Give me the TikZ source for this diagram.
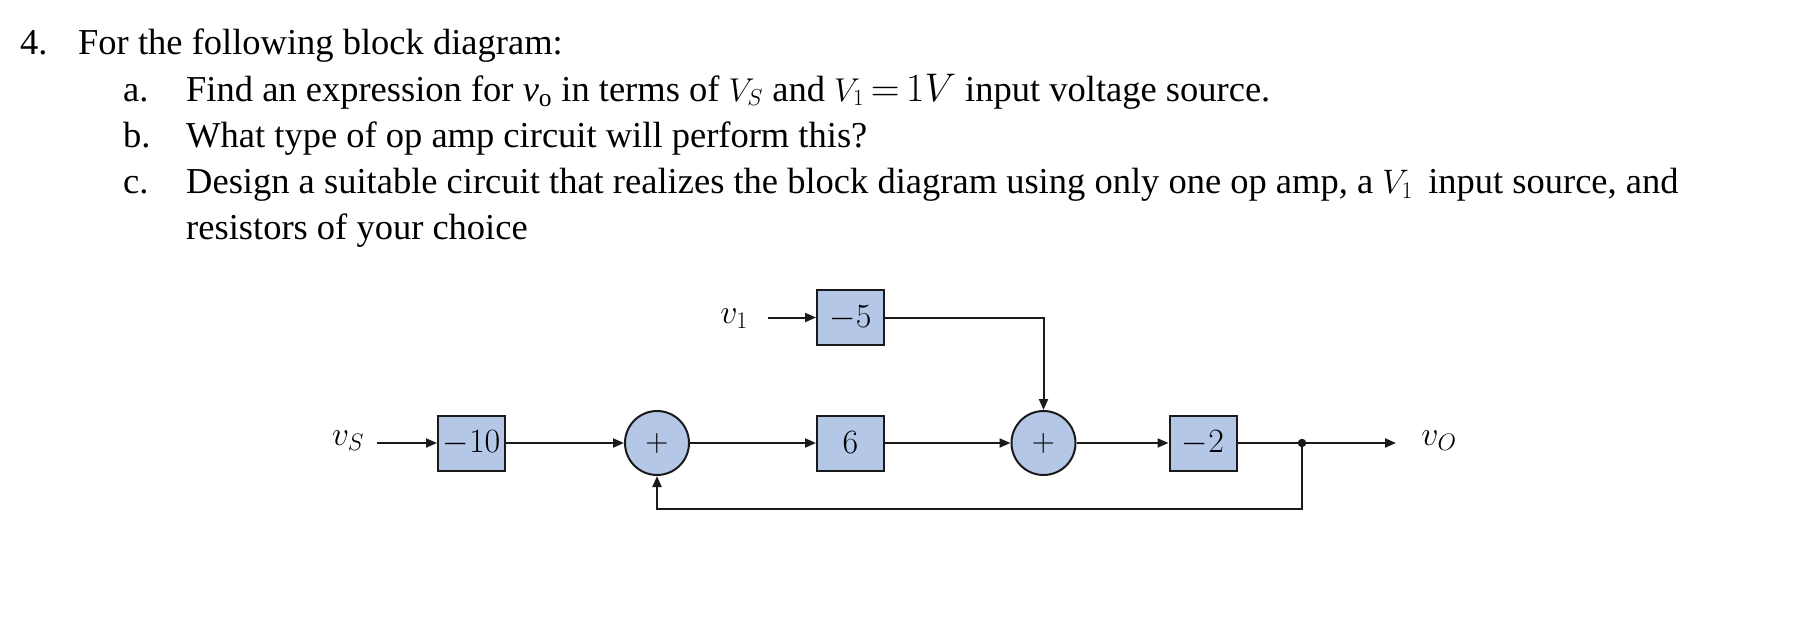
\RequirePackage{fix-cm}
\documentclass[tikz,border=0pt]{standalone}
\usepackage[no-math]{fontspec}
\setmainfont{Liberation Serif}
\usetikzlibrary{arrows.meta,calc}
\definecolor{blk}{HTML}{B4C7E7}
\definecolor{ln}{HTML}{1A1A1A}
\begin{document}
\begin{tikzpicture}[x=1pt,y=-1pt,
  txt/.style={anchor=base west,inner sep=0pt,font=\fontsize{36.5}{40}\selectfont},
  gain/.style={draw=ln,line width=2pt,fill=blk,minimum width=67pt,minimum height=55pt,inner sep=0pt,font=\fontsize{34}{40}\selectfont},
  sumnode/.style={circle,draw=ln,line width=2pt,fill=blk,minimum size=64pt,inner sep=0pt,font=\fontsize{32}{36}\selectfont},
  lab/.style={anchor=base,inner sep=0pt,font=\fontsize{34}{40}\selectfont},
  conn/.style={draw=ln,line width=2pt},
  arr/.style={conn,-{Triangle[length=11pt,width=9pt]}},
]
\useasboundingbox (0,0) rectangle (1814,634);

% question text
\node[txt] (n4) at (20,55) {4.};
\node[txt] (l1) at (78,55) {For the following block diagram:};
\node[txt] (na) at (123,101) {a.};
\node[txt] (l2) at (186,101) {Find an expression for \textit{v}\textsubscript{o} in terms of {\fontsize{33}{36}\selectfont$V_S$} and {\fontsize{33}{36}\selectfont$V_1$}{\fontsize{40}{40}\selectfont$\,{=}\,1V$} input voltage source.};
\node[txt] (nb) at (123,147) {b.};
\node[txt] (l3) at (186,147) {What type of op amp circuit will perform this?};
\node[txt] (nc) at (123,193) {c.};
\node[txt] (l4) at (186,193) {Design a suitable circuit that realizes the block diagram using only one op amp, a {\fontsize{34}{36}\selectfont$V_1$}\, input source, and};
\node[txt] (l5) at (186,239) {resistors of your choice};

% block diagram
\node[lab] (vs) at (348,445) {$v_S$};
\node[lab] (v1) at (734,323) {$v_1$};
\node[lab] (vo) at (1439,445) {$v_O$};

\node[gain] (b10) at (471.5,443) {$-10$};
\node[sumnode] (s1) at (657,443) {$+$};
\node[gain] (b6) at (850.5,443) {$6$};
\node[gain] (b5) at (850.5,317.5) {$-5$};
\node[sumnode] (s2) at (1043.5,443) {$+$};
\node[gain] (b2) at (1203,443) {$-2$};
\node[circle,fill=ln,inner sep=0pt,minimum size=8.5pt] (jn) at (1302,443) {};

\coordinate (vsin) at (377,443);
\coordinate (v1in) at (768,317.5);
\coordinate (vout) at (1396,443);
\coordinate (fb) at (1302,509);

\draw[arr] (vsin) -- (b10);
\draw[arr] (b10) -- (s1);
\draw[arr] (s1) -- (b6);
\draw[arr] (b6) -- (s2);
\draw[arr] (s2) -- (b2);
\draw[conn] (b2) -- (jn);
\draw[arr] (jn) -- (vout);
\draw[arr] (v1in) -- (b5);
\draw[arr] (b5) -| (s2);
\draw[arr] (jn.center) -- (fb) -| (s1);
\end{tikzpicture}
\end{document}
